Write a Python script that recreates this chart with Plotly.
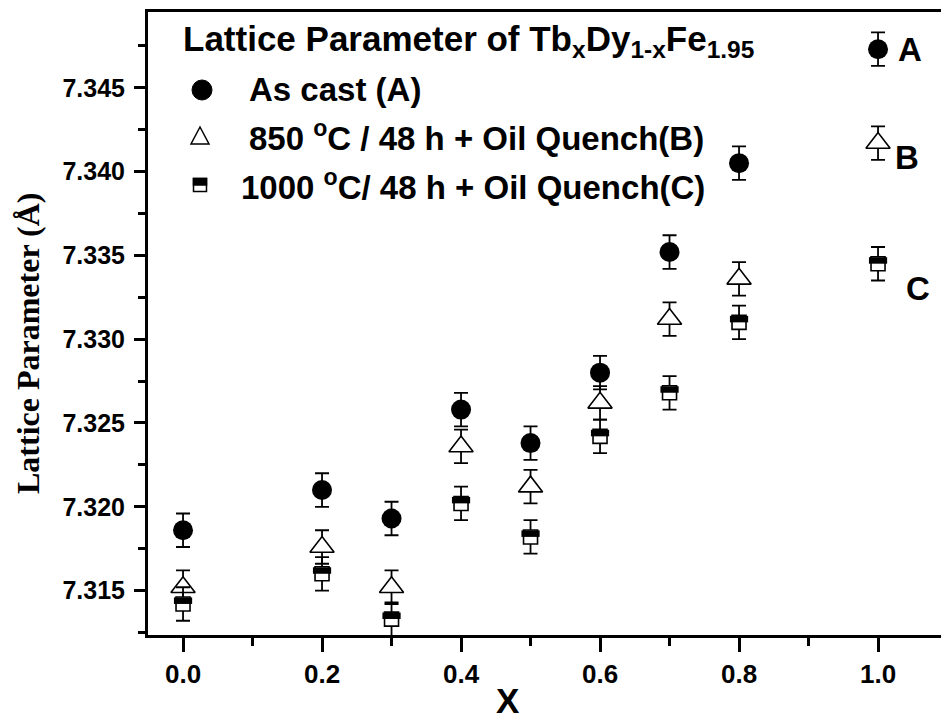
import plotly.graph_objects as go

# ---- data ----
x_vals = [0.0, 0.2, 0.3, 0.4, 0.5, 0.6, 0.7, 0.8, 1.0]
as_cast_A = [7.3186, 7.3210, 7.3193, 7.3258, 7.3238, 7.3280, 7.3352, 7.3405, 7.3473]
quench850_B = [7.3152, 7.3176, 7.3152, 7.3236, 7.3212, 7.3262, 7.3312, 7.3336, 7.3417]
quench1000_C = [7.3142, 7.3160, 7.3133, 7.3202, 7.3182, 7.3242, 7.3268, 7.3310, 7.3345]
err_A = [0.001, 0.001, 0.001, 0.001, 0.001, 0.001, 0.001, 0.001, 0.001]
err_B = [0.001, 0.001, 0.001, 0.001, 0.001, 0.001, 0.001, 0.001, 0.001]
err_C = [0.001, 0.001, 0.001, 0.001, 0.001, 0.001, 0.001, 0.001, 0.001]
y_ticks = [7.315, 7.320, 7.325, 7.330, 7.335, 7.340, 7.345]
x_ticks = [0.0, 0.2, 0.4, 0.6, 0.8, 1.0]
end_labels = ["A", "B", "C"]

# ---- layout geometry ----
W, H = 941, 721
ML, MR, MT, MB = 148, 0, 12, 86
PW, PH = W - ML - MR, H - MT - MB
y_range = [7.31235, 7.34952]
x_range = [-0.0504, 1.0906]
px_per_y = PH / (y_range[1] - y_range[0])

def px(xp):
    return (xp - ML) / PW

def py(yp):
    return (H - MB - yp) / PH

eb = dict(type="data", visible=True, color="black", thickness=1.8, width=7)

fig = go.Figure()
fig.add_trace(go.Scatter(
    x=x_vals, y=as_cast_A, mode="markers",
    error_y=dict(array=err_A, **eb),
    marker=dict(symbol="circle", size=20, color="black"),
    showlegend=False))
fig.add_trace(go.Scatter(
    x=x_vals, y=quench850_B, mode="markers",
    error_y=dict(array=err_B, **eb),
    marker=dict(symbol="triangle-up", size=21, color="white",
                line=dict(color="black", width=1.6)),
    showlegend=False))
fig.add_trace(go.Scatter(
    x=x_vals, y=quench1000_C, mode="markers",
    error_y=dict(array=err_C, **eb),
    marker=dict(symbol="square", size=14, color="white",
                line=dict(color="black", width=1.6)),
    showlegend=False))
# filled upper half of the half-filled square markers
half_off = 3.3 / px_per_y
fig.add_trace(go.Scatter(
    x=x_vals, y=[v + half_off for v in quench1000_C], mode="markers",
    marker=dict(symbol="line-ew", size=13, color="black",
                line=dict(color="black", width=6.5)),
    showlegend=False, hoverinfo="skip"))

ann = []
font_b = "Arial, Liberation Sans, sans-serif"
ann.append(dict(xref="paper", yref="paper", x=px(181), y=py(41), xanchor="left", yanchor="middle",
                text="<b>Lattice Parameter of Tb<sub>x</sub>Dy<sub>1-x</sub>Fe<sub>1.95</sub></b>",
                showarrow=False, font=dict(family=font_b, size=35, color="black")))
legend_txt = [
    ("<b>As cast (A)</b>", 247, 90),
    ("<b>850 <sup>o</sup>C / 48 h + Oil Quench(B)</b>", 247, 136),
    ("<b>1000 <sup>o</sup>C/ 48 h + Oil Quench(C)</b>", 239, 185),
]
for t, xx, yy in legend_txt:
    ann.append(dict(xref="paper", yref="paper", x=px(xx), y=py(yy), xanchor="left", yanchor="middle",
                    text=t, showarrow=False, font=dict(family=font_b, size=33, color="black")))
# right side letters
end_vals = [as_cast_A[-1], quench850_B[-1], quench1000_C[-1]]
end_shift = [(32, 0), (29, -14), (40, -25)]
for lab, v, (dx, dy) in zip(end_labels, end_vals, end_shift):
    ann.append(dict(x=x_vals[-1], y=v, xref="x", yref="y", text="<b>%s</b>" % lab,
                    xshift=dx, yshift=dy, showarrow=False,
                    font=dict(family=font_b, size=33, color="black")))
# axis titles
ann.append(dict(xref="paper", yref="paper", x=px(508), y=py(700), text="<b>X</b>", showarrow=False,
                xanchor="center", yanchor="middle", font=dict(family=font_b, size=35, color="black")))
ann.append(dict(xref="paper", yref="paper", x=px(28), y=py(344), text="<b>Lattice Parameter (Å)</b>",
                showarrow=False, textangle=-90, xanchor="center", yanchor="middle",
                font=dict(family="Times New Roman, Liberation Serif, serif", size=32, color="black")))

shapes = []
# legend symbols
shapes.append(dict(type="circle", xref="paper", yref="paper", xsizemode="pixel", ysizemode="pixel",
                   xanchor=px(202), yanchor=py(90), x0=-10, x1=10, y0=-10, y1=10,
                   fillcolor="black", line=dict(color="black", width=1)))
shapes.append(dict(type="path", xref="paper", yref="paper", xsizemode="pixel", ysizemode="pixel",
                   xanchor=px(200), yanchor=py(136), path="M -9,-8 L 9,-8 L 0,9 Z",
                   fillcolor="white", line=dict(color="black", width=1.5)))
shapes.append(dict(type="rect", xref="paper", yref="paper", xsizemode="pixel", ysizemode="pixel",
                   xanchor=px(200), yanchor=py(185), x0=-6.5, x1=6.5, y0=-6.5, y1=6.5,
                   fillcolor="white", line=dict(color="black", width=1.5)))
shapes.append(dict(type="rect", xref="paper", yref="paper", xsizemode="pixel", ysizemode="pixel",
                   xanchor=px(200), yanchor=py(185), x0=-6.5, x1=6.5, y0=0, y1=6.5,
                   fillcolor="black", line=dict(color="black", width=1.5)))

fig.update_layout(
    width=W, height=H, margin=dict(l=ML, r=MR, t=MT, b=MB),
    paper_bgcolor="white", plot_bgcolor="white",
    showlegend=False, annotations=ann, shapes=shapes,
    xaxis=dict(range=x_range, tickvals=x_ticks, ticktext=["%.1f" % v for v in x_ticks],
               showgrid=False, zeroline=False, showline=True, linecolor="black", linewidth=3,
               mirror=True, ticks="outside", ticklen=14, tickwidth=2.5, tickcolor="black",
               tickfont=dict(family=font_b, size=26, color="black", weight="bold"),
               minor=dict(dtick=0.1, tick0=0.1, ticks="outside", ticklen=8, tickwidth=2.5, tickcolor="black"),
               fixedrange=True),
    yaxis=dict(range=y_range, tickvals=y_ticks, ticktext=["%.3f" % v for v in y_ticks],
               showgrid=False, zeroline=False, showline=True, linecolor="black", linewidth=3,
               mirror=False, ticks="outside", ticklen=11, tickwidth=2.5, tickcolor="black",
               ticklabelstandoff=4,
               tickfont=dict(family=font_b, size=25, color="black", weight="bold"),
               minor=dict(dtick=0.0025, tick0=7.3125, ticks="outside", ticklen=7, tickwidth=2.5, tickcolor="black"),
               fixedrange=True),
)

fig.write_html("out.html")
